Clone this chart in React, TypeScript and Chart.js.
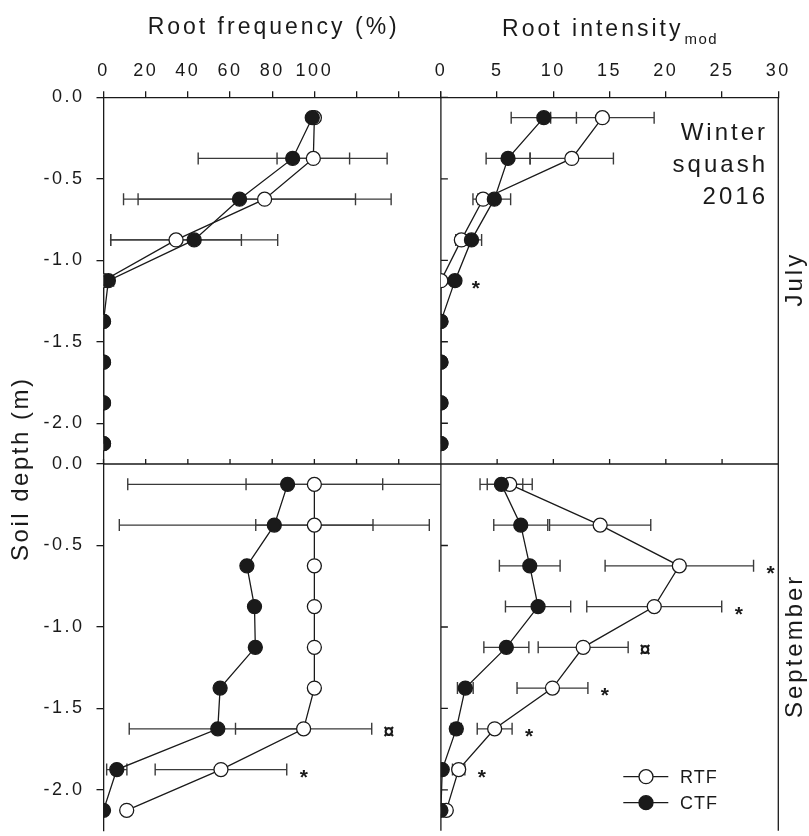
import React, { useEffect, useRef } from 'react';
import { Chart, registerables } from 'chart.js';

Chart.register(...registerables);

// ---------------- data ----------------
const depths = [-0.125, -0.375, -0.625, -0.875, -1.125, -1.375, -1.625, -1.875, -2.125];
const freqTicks = [0, 20, 40, 60, 80, 100, 120, 140, 160];
const freqLabelMax = 100;
const intensityTicks = [0, 5, 10, 15, 20, 25, 30];
const depthTicks = [0, -0.5, -1.0, -1.5, -2.0];
const seriesLabels = ['RTF', 'CTF'];

// July – root frequency (%)
const julyFreqRTF = [100, 99.5, 76.4, 34.4, 0, 0, 0, 0, 0];
const julyFreqRTFErr = [0, 17.2, 60, 31, 0, 0, 0, 0, 0];
const julyFreqCTF = [99, 89.7, 64.5, 43, 2.3, 0, 0, 0, 0];
const julyFreqCTFErr = [0, 44.8, 55, 39.6, 2.5, 0, 0, 0, 0];
const julyFreqMarks = ['', '', '', '', '', '', '', '', ''];

// July – root intensity (mod)
const julyIntRTF = [14.36, 11.64, 3.75, 1.82, 0, 0, 0, 0, 0];
const julyIntRTFErr = [4.6, 3.7, 0.9, 0.5, 0, 0, 0, 0, 0];
const julyIntCTF = [9.15, 5.97, 4.75, 2.72, 1.25, 0, 0, 0, 0];
const julyIntCTFErr = [2.9, 1.95, 1.45, 0.9, 0.35, 0, 0, 0, 0];
const julyIntMarks = ['', '', '', '', '*', '', '', '', ''];

// September – root frequency (%)
const septFreqRTF = [100, 100, 100, 100, 100, 100, 94.9, 55.7, 11.0];
const septFreqRTFErr = [32.4, 27.8, 0, 0, 0, 0, 32.3, 31.2, 0];
const septFreqCTF = [87.3, 81, 68, 71.6, 72, 55.3, 54.2, 6.3, 0];
const septFreqCTFErr = [75.8, 73.5, 0, 0, 0, 0, 42, 4.8, 0];
const septFreqMarks = ['', '', '', '', '', '', '¤', '*', ''];

// September – root intensity (mod)
const septIntRTF = [6.12, 14.16, 21.2, 18.97, 12.65, 9.92, 4.78, 1.58, 0.48];
const septIntRTFErr = [2.0, 4.5, 6.6, 6.0, 4.0, 3.15, 1.55, 0.55, 0];
const septIntCTF = [5.38, 7.1, 7.9, 8.64, 5.82, 2.17, 1.37, 0.12, 0];
const septIntCTFErr = [1.9, 2.4, 2.7, 2.9, 2.0, 0.7, 0.45, 0.1, 0];
const septIntMarks = ['', '', '*', '*', '¤', '*', '*', '*', ''];

const freqTitle = 'Root frequency (%)';
const intTitle = 'Root intensity';
const intTitleSub = 'mod';
const yTitle = 'Soil depth (m)';
const rowLabels = ['July', 'September'];
const panelNote = ['Winter', 'squash', '2016'];

// ---------------- layout / style ----------------
const W = 809;
const H = 839;
const AREA_LEFT = 103.5;
const AREA_TOP = 97.3;
const AREA_RIGHT = 778.3;
const FONT = "'Liberation Sans', Arial, Helvetica, sans-serif";
const INK = '#1a1a1a';
const BAR = '#3a3a3a';

const panels = [
  { xId: 'xFreq', yId: 'yJuly', rtf: julyFreqRTF, rtfErr: julyFreqRTFErr, ctf: julyFreqCTF, ctfErr: julyFreqCTFErr, marks: julyFreqMarks },
  { xId: 'xInt', yId: 'yJuly', rtf: julyIntRTF, rtfErr: julyIntRTFErr, ctf: julyIntCTF, ctfErr: julyIntCTFErr, marks: julyIntMarks },
  { xId: 'xFreq', yId: 'ySept', rtf: septFreqRTF, rtfErr: septFreqRTFErr, ctf: septFreqCTF, ctfErr: septFreqCTFErr, marks: septFreqMarks },
  { xId: 'xInt', yId: 'ySept', rtf: septIntRTF, rtfErr: septIntRTFErr, ctf: septIntCTF, ctfErr: septIntCTFErr, marks: septIntMarks },
];

function text(ctx: any, s: string, x: number, y: number, size: number, ls: number, align: string, weight = 'normal') {
  ctx.font = `${weight} ${size}px ${FONT}`;
  ctx.letterSpacing = `${ls}px`;
  ctx.textAlign = align;
  const dx = align === 'center' ? ls / 2 : align === 'right' ? ls : 0;
  ctx.fillText(s, x + dx, y);
}

const framePlugin = {
  id: 'frame',
  beforeDraw(chart: any) {
    chart.ctx.letterSpacing = '2.5px';
  },
  beforeDatasetsDraw(chart: any) {
    const ctx = chart.ctx;
    const { xFreq, xInt, yJuly, ySept } = chart.scales;
    const ca = chart.chartArea;
    ctx.save();
    ctx.strokeStyle = INK;
    ctx.lineWidth = 1.3;
    ctx.beginPath();
    const xm = xInt.left;
    ctx.moveTo(xm, ca.top);
    ctx.lineTo(xm, ca.bottom);
    for (const ys of [yJuly, ySept]) {
      for (const v of depthTicks) {
        const y = ys.getPixelForValue(v);
        ctx.moveTo(xm, y);
        ctx.lineTo(xm + 7, y);
      }
    }
    const ym = ySept.top;
    ctx.moveTo(ca.left, ym);
    ctx.lineTo(ca.right, ym);
    for (const v of freqTicks) {
      const x = xFreq.getPixelForValue(v);
      ctx.moveTo(x, ym);
      ctx.lineTo(x, ym - 5);
    }
    for (const v of intensityTicks) {
      const x = xInt.getPixelForValue(v);
      ctx.moveTo(x, ym);
      ctx.lineTo(x, ym - 5);
    }
    ctx.moveTo(ca.right, ca.top);
    ctx.lineTo(ca.right, ca.bottom);
    ctx.stroke();
    ctx.restore();

    // error bars
    for (const p of panels) {
      const xs = chart.scales[p.xId];
      const ys = chart.scales[p.yId];
      ctx.save();
      ctx.beginPath();
      ctx.rect(xs.left, ys.top, xs.right - xs.left, ys.bottom - ys.top);
      ctx.clip();
      ctx.strokeStyle = BAR;
      ctx.lineWidth = 1.4;
      const pairs: [number[], number[]][] = [[p.rtf, p.rtfErr], [p.ctf, p.ctfErr]];
      for (const [vals, errs] of pairs) {
        depths.forEach((d, i) => {
          const e = errs[i];
          if (!e) return;
          const y = ys.getPixelForValue(d);
          const a = xs.getPixelForValue(vals[i] - e);
          const b = xs.getPixelForValue(vals[i] + e);
          ctx.beginPath();
          ctx.moveTo(a, y); ctx.lineTo(b, y);
          ctx.moveTo(a, y - 6); ctx.lineTo(a, y + 6);
          ctx.moveTo(b, y - 6); ctx.lineTo(b, y + 6);
          ctx.stroke();
        });
      }
      ctx.restore();
    }
  },
  afterDraw(chart: any) {
    const ctx = chart.ctx;
    const { xFreq, xInt, yJuly, ySept } = chart.scales;
    ctx.save();
    ctx.fillStyle = INK;
    ctx.textBaseline = 'alphabetic';

    // significance marks
    for (const p of panels) {
      const xs = chart.scales[p.xId];
      const ys = chart.scales[p.yId];
      depths.forEach((d, i) => {
        const m = p.marks[i];
        if (!m) return;
        const right = Math.max(p.rtf[i] + p.rtfErr[i], p.ctf[i] + p.ctfErr[i]);
        const x = xs.getPixelForValue(right) + 17;
        const y = ys.getPixelForValue(d);
        if (m === '*') text(ctx, m, x, y + 14, 21, 0, 'center', 'bold');
        else text(ctx, m, x, y + 9, 20, 0, 'center', 'bold');
      });
    }

    // column titles
    text(ctx, freqTitle, (xFreq.left + xFreq.right) / 2, 34, 23, 3, 'center');
    ctx.font = `normal 23px ${FONT}`;
    ctx.letterSpacing = '3px';
    const w1 = ctx.measureText(intTitle).width;
    ctx.font = `normal 15px ${FONT}`;
    ctx.letterSpacing = '1.5px';
    const w2 = ctx.measureText(intTitleSub).width;
    const start = (xInt.left + xInt.right) / 2 - (w1 + w2) / 2;
    text(ctx, intTitle, start, 36, 23, 3, 'left');
    text(ctx, intTitleSub, start + w1 + 1, 43.5, 15, 1.5, 'left');

    // panel note
    const nx = 765;
    text(ctx, panelNote[0], nx, 139.5, 24, 3, 'right');
    text(ctx, panelNote[1], nx, 171.5, 24, 3, 'right');
    text(ctx, panelNote[2], nx, 204, 24, 3, 'right');

    // rotated labels
    const rot = (s: string, x: number, y: number, size: number, ls: number) => {
      ctx.save();
      ctx.translate(x, y);
      ctx.rotate(-Math.PI / 2);
      text(ctx, s, 0, 0, size, ls, 'center');
      ctx.restore();
    };
    rot(yTitle, 28, 470, 24, 2.5);
    rot(rowLabels[0], 802, (yJuly.top + yJuly.bottom) / 2, 24, 3);
    rot(rowLabels[1], 802, (ySept.top + ySept.bottom) / 2, 24, 3);

    // legend
    const lx0 = 623.3, lx1 = 668.3, lcx = 646, tx = 680;
    const ly = [776.7, 802.7];
    ly.forEach((y, k) => {
      ctx.strokeStyle = INK;
      ctx.lineWidth = 1.3;
      ctx.beginPath();
      ctx.moveTo(lx0, y); ctx.lineTo(lx1, y);
      ctx.stroke();
      ctx.beginPath();
      ctx.arc(lcx, y, 7, 0, Math.PI * 2);
      ctx.fillStyle = k === 0 ? '#ffffff' : INK;
      ctx.fill();
      ctx.stroke();
      ctx.fillStyle = INK;
      ctx.textBaseline = 'middle';
      text(ctx, seriesLabels[k], tx, y + 1, 18, 1, 'left');
      ctx.textBaseline = 'alphabetic';
    });
    ctx.restore();
  },
};

function makeDatasets() {
  const out: any[] = [];
  for (const p of panels) {
    out.push({
      label: seriesLabels[1],
      data: depths.map((d, i) => ({ x: p.ctf[i], y: d })),
      xAxisID: p.xId, yAxisID: p.yId,
      showLine: true, order: 1,
      borderColor: INK, borderWidth: 1.3,
      pointRadius: 7, pointBorderWidth: 1.3,
      pointBorderColor: INK, pointBackgroundColor: INK,
    });
    out.push({
      label: seriesLabels[0],
      data: depths.map((d, i) => ({ x: p.rtf[i], y: d })),
      xAxisID: p.xId, yAxisID: p.yId,
      showLine: true, order: 2,
      borderColor: INK, borderWidth: 1.3,
      pointRadius: 7, pointBorderWidth: 1.3,
      pointBorderColor: INK, pointBackgroundColor: '#ffffff',
    });
  }
  return out;
}

function xScale(ticks: number[], max: number, labelMax: number) {
  return {
    type: 'linear', position: 'top', stack: 'cols', stackWeight: 1,
    min: 0, max,
    afterBuildTicks: (s: any) => { s.ticks = ticks.map((v) => ({ value: v })); },
    afterFit: (s: any) => {
      s.height = AREA_TOP;
      s.paddingLeft = 0; s.paddingRight = 0; s.paddingTop = 0; s.paddingBottom = 0;
    },
    ticks: {
      autoSkip: false, maxRotation: 0, padding: 9, color: INK,
      font: { family: FONT, size: 18 },
      callback: (v: any) => (Number(v) <= labelMax ? String(v) : ''),
    },
    grid: { drawOnChartArea: false, drawTicks: true, tickLength: 6, color: INK, lineWidth: 1.3 },
    border: { display: true, color: INK, width: 1.3 },
  };
}

function yScale(weight: number) {
  return {
    type: 'linear', position: 'left', stack: 'rows', stackWeight: weight,
    min: -2.25, max: 0,
    afterBuildTicks: (s: any) => { s.ticks = depthTicks.map((v) => ({ value: v })); },
    afterFit: (s: any) => {
      s.width = AREA_LEFT;
      s.paddingLeft = 0; s.paddingRight = 0; s.paddingTop = 0; s.paddingBottom = 0;
    },
    ticks: {
      autoSkip: false, padding: 12, color: INK,
      font: { family: FONT, size: 18 },
      callback: (v: any) => Number(v).toFixed(1),
    },
    grid: { drawOnChartArea: false, drawTicks: true, tickLength: 7, color: INK, lineWidth: 1.3 },
    border: { display: true, color: INK, width: 1.3 },
  };
}

export default function App() {
  const ref = useRef<HTMLCanvasElement>(null);
  useEffect(() => {
    if (!ref.current) return;
    const chart = new Chart(ref.current, {
      type: 'scatter',
      data: { datasets: makeDatasets() },
      options: {
        responsive: false,
        maintainAspectRatio: false,
        animation: false,
        devicePixelRatio: 1,
        events: [],
        layout: { padding: { left: 0, top: 0, right: W - AREA_RIGHT, bottom: 0 } },
        plugins: { legend: { display: false }, tooltip: { enabled: false } },
        // left/top stacks are laid out in reverse definition order
        scales: {
          xInt: xScale(intensityTicks, 30, 30),
          xFreq: xScale(freqTicks, 160, freqLabelMax),
          ySept: yScale(1),
          yJuly: yScale(1),
        } as any,
      },
      plugins: [framePlugin],
    } as any);
    return () => chart.destroy();
  }, []);
  return (
    <div style={{ position: 'fixed', left: 0, top: 0, width: W, height: 836, overflow: 'hidden', background: '#fff' }}>
      <canvas ref={ref} width={W} height={H} style={{ display: 'block', width: W, height: H }} />
    </div>
  );
}
